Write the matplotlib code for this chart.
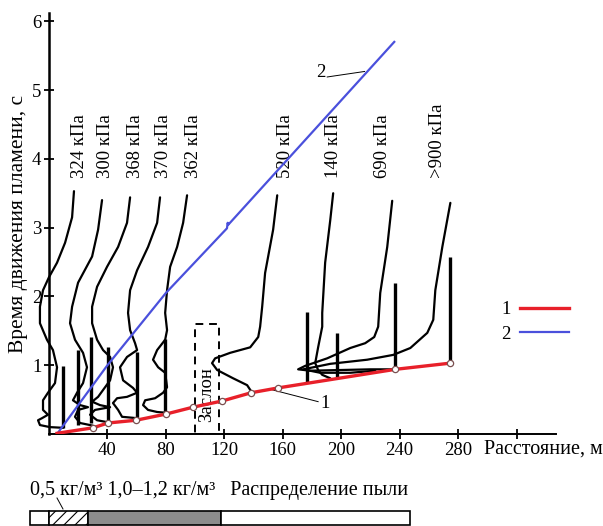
import matplotlib
matplotlib.use('Agg')
import matplotlib.pyplot as plt
from matplotlib.patches import Rectangle
from matplotlib.lines import Line2D
from matplotlib.transforms import blended_transform_factory

plt.rcParams['font.family'] = ['Liberation Serif', 'DejaVu Serif']
plt.rcParams['font.size'] = 13
plt.rcParams['hatch.linewidth'] = 0.8

# кривая 1 - фронт пламени (красная), расстояние м / время с
flame_x = [5.5, 30.1, 40.4, 59.6, 80.1, 98.6, 118.5, 138.4, 156.8, 237.0, 274.7]
flame_t = [0.01, 0.09, 0.16, 0.20, 0.29, 0.39, 0.48, 0.60, 0.67, 0.94, 1.03]

# кривая 2 (синяя)
wave_x = [5.5, 40.0, 80.0, 121.8, 122.3, 122.6, 236.3]
wave_t = [0.0, 1.0, 2.05, 2.99, 3.07, 3.04, 5.70]

# осциллограммы давления (x, t)
trace_324 = [(17.1, 3.53), (15.8, 3.15), (11.0, 2.78), (5.5, 2.49), (0, 2.28), (-4.1, 2.09),
             (-6.2, 1.85), (-6.2, 1.61), (-1.4, 1.37), (2.7, 1.22), (5.5, 0.97), (4.1, 0.74),
             (-0.7, 0.60), (-4.1, 0.49), (-4.1, 0.35), (-0.7, 0.28), (-4.8, 0.23), (-7.5, 0.20),
             (-6.2, 0.13), (0.7, 0.10), (9.6, 0.09)]
trace_300 = [(36.3, 3.40), (33.6, 2.97), (29.5, 2.58), (19.9, 2.20), (15.8, 1.85), (14.4, 1.61),
             (17.8, 1.37), (23.3, 1.18), (26.0, 0.97), (23.3, 0.74), (19.2, 0.60), (16.4, 0.49),
             (21.2, 0.42), (26.7, 0.39), (19.9, 0.35), (17.8, 0.25), (21.2, 0.16), (28.1, 0.13),
             (30.1, 0.12)]
trace_368 = [(55.5, 3.44), (53.4, 3.07), (47.3, 2.72), (39.7, 2.43), (32.9, 2.14), (29.5, 1.85),
             (29.5, 1.61), (32.9, 1.37), (37.0, 1.22), (41.8, 1.12), (43.8, 0.97), (41.8, 0.78),
             (33.6, 0.54), (29.5, 0.47), (34.9, 0.42), (41.8, 0.39), (31.5, 0.35), (28.1, 0.28),
             (32.9, 0.20), (40.4, 0.17)]
trace_370 = [(76.0, 3.44), (74.0, 3.07), (67.8, 2.72), (60.3, 2.38), (55.5, 2.09), (54.1, 1.76),
             (55.5, 1.51), (58.9, 1.32), (60.3, 1.22), (53.4, 1.12), (48.6, 0.97), (50.7, 0.78),
             (57.5, 0.67), (60.3, 0.60), (53.4, 0.54), (46.6, 0.52), (43.8, 0.45), (47.3, 0.35),
             (50.0, 0.25), (60.3, 0.23)]
trace_362 = [(94.5, 3.47), (91.8, 3.07), (87.7, 2.72), (82.9, 2.43), (80.8, 2.09), (79.5, 1.76),
             (80.8, 1.51), (79.5, 1.37), (74.0, 1.22), (71.2, 1.08), (74.7, 0.97), (79.5, 0.89),
             (80.8, 0.68), (78.1, 0.60), (72.6, 0.52), (65.8, 0.49), (64.4, 0.42), (67.8, 0.35),
             (74.0, 0.32), (79.5, 0.31)]
trace_520 = [(156.2, 3.47), (153.4, 2.97), (147.9, 2.34), (145.9, 1.85), (144.5, 1.56), (143.2, 1.41),
             (137.7, 1.26), (124.0, 1.18), (113.7, 1.10), (111.6, 1.03), (115.1, 0.93), (126.0, 0.81),
             (135.6, 0.71), (138.4, 0.62)]
trace_140 = [(194.5, 3.50), (192.5, 3.11), (189.0, 2.49), (187.0, 1.76), (187.0, 1.56), (184.2, 1.26),
             (182.2, 1.03), (184.2, 0.93), (187.0, 0.86), (192.5, 0.81)]
trace_690 = [(234.9, 3.39), (231.5, 2.72), (226.7, 2.05), (225.3, 1.56), (222.6, 1.41), (216.4, 1.32),
             (206.2, 1.25), (190.4, 1.10), (175.3, 0.99), (170.5, 0.94), (178.8, 0.92), (199.3, 0.93),
             (219.9, 0.94), (235.6, 0.94)]
trace_900 = [(274.7, 3.36), (269.2, 2.72), (264.4, 2.09), (263.0, 1.66), (258.9, 1.47), (247.3, 1.25),
             (235.6, 1.15), (217.8, 1.08), (192.5, 1.02), (174.0, 0.94), (185.6, 0.89), (206.2, 0.89),
             (223.3, 0.92)]
traces = [trace_324, trace_300, trace_368, trace_370, trace_362,
          trace_520, trace_140, trace_690, trace_900]

# вертикальные отметки датчиков
gauge_x = [9.6, 19.9, 28.8, 40.4, 60.3, 79.5, 176.7, 197.3, 237.0, 274.7]
gauge_t0 = [0.09, 0.13, 0.16, 0.17, 0.23, 0.31, 0.76, 0.83, 0.93, 1.04]
gauge_t1 = [0.99, 1.22, 1.41, 1.26, 1.19, 1.38, 1.77, 1.47, 2.19, 2.57]

pressure_labels = ['324 кПа', '300 кПа', '368 кПа', '370 кПа', '362 кПа',
                   '520 кПа', '140 кПа', '690 кПа', '>900 кПа']
pressure_x = [21.2, 39.0, 58.9, 78.1, 98.6, 161.6, 194.5, 228.1, 265.8]

# распределение пыли (границы участков, м)
dust_edges = [-13, 0, 27, 118, 247]
dust_fill = ['white', 'hatch', '#8c8c8c', 'white']

fig = plt.figure(figsize=(6.03, 5.26), dpi=100)
ax = fig.add_axes([49 / 603, 92 / 526, 507 / 603, 421 / 526])
ax.set_xlim(0, 347)
ax.set_ylim(0, 6.12)

for s in ['top', 'right']:
    ax.spines[s].set_visible(False)
ax.spines['left'].set_linewidth(1.8)
ax.spines['bottom'].set_linewidth(1.4)
ax.set_xticks([40, 80, 120, 160, 200, 240, 280, 320])
ax.set_xticklabels(['40', '80', '120', '160', '200', '240', '280', ''])
ax.set_yticks([1, 2, 3, 4, 5, 6])
ax.tick_params(direction='inout', length=7, width=1.3, labelsize=13.5, pad=2)
ax.set_ylabel('Время движения пламени, с', fontsize=15.5, labelpad=3)

for tr in traces:
    ax.plot([p[0] for p in tr], [p[1] for p in tr], color='black', lw=1.6,
            solid_joinstyle='round', solid_capstyle='round', clip_on=False, zorder=3)

ax.vlines(gauge_x, gauge_t0, gauge_t1, color='black', lw=2.4, zorder=3)

ax.plot(wave_x, wave_t, color='#4a50dc', lw=1.6, zorder=4)
ax.plot(flame_x, flame_t, color='#e8202a', lw=2.4, zorder=5)
ax.plot(flame_x[1:], flame_t[1:], 'o', ms=4.5, mfc='white', mec='#7a5050', mew=0.9, zorder=6)

for lab, x in zip(pressure_labels, pressure_x):
    ax.text(x, 3.72, lab, rotation=90, ha='center', va='bottom', fontsize=13.5)

# заслон
ax.add_patch(Rectangle((100, 0), 16.4, 1.6, fill=False, ls=(0, (4, 3)), lw=1.4, zorder=2))
ax.text(108.2, 0.57, 'Заслон', rotation=90, ha='center', va='center', fontsize=13.5)

# выноски
ax.plot([151.4, 184.2], [0.65, 0.47], color='black', lw=0.7)
ax.text(186, 0.45, '1', ha='left', va='center', fontsize=13.5)
ax.plot([190.4, 216.0], [5.19, 5.27], color='black', lw=0.7)
ax.text(189.5, 5.25, '2', ha='right', va='center', fontsize=13.5)

fig.text(484 / 603, 77 / 526, 'Расстояние, м', ha='left', va='center', fontsize=14.5)

handles = [Line2D([], [], color='#e8202a', lw=2.4), Line2D([], [], color='#4a50dc', lw=1.6)]
fig.legend(handles, ['1', '2'], markerfirst=False, frameon=False, fontsize=13.5,
           loc='center', bbox_to_anchor=(535 / 603, 1 - 322 / 526),
           handlelength=2.6, handletextpad=0.5, labelspacing=0.4)

# полоса распределения пыли
tr_bar = blended_transform_factory(ax.transData, fig.transFigure)
for i in range(len(dust_fill)):
    x0, x1 = dust_edges[i], dust_edges[i + 1]
    if dust_fill[i] == 'hatch':
        r = Rectangle((x0, 0.002), x1 - x0, 0.0266, transform=tr_bar, facecolor='white',
                      edgecolor='black', hatch='///', lw=1.2, clip_on=False)
    else:
        r = Rectangle((x0, 0.002), x1 - x0, 0.0266, transform=tr_bar, facecolor=dust_fill[i],
                      edgecolor='black', lw=1.2, clip_on=False)
    fig.add_artist(r)

fig.text(30 / 603, 36 / 526, '0,5 кг/м³ 1,0–1,2 кг/м³   Распределение пыли',
         ha='left', va='center', fontsize=14.5)
fig.add_artist(Line2D([57 / 603, 63 / 603], [28 / 526, 17 / 526], color='black', lw=0.7))

fig.savefig('out.png', dpi=100)
